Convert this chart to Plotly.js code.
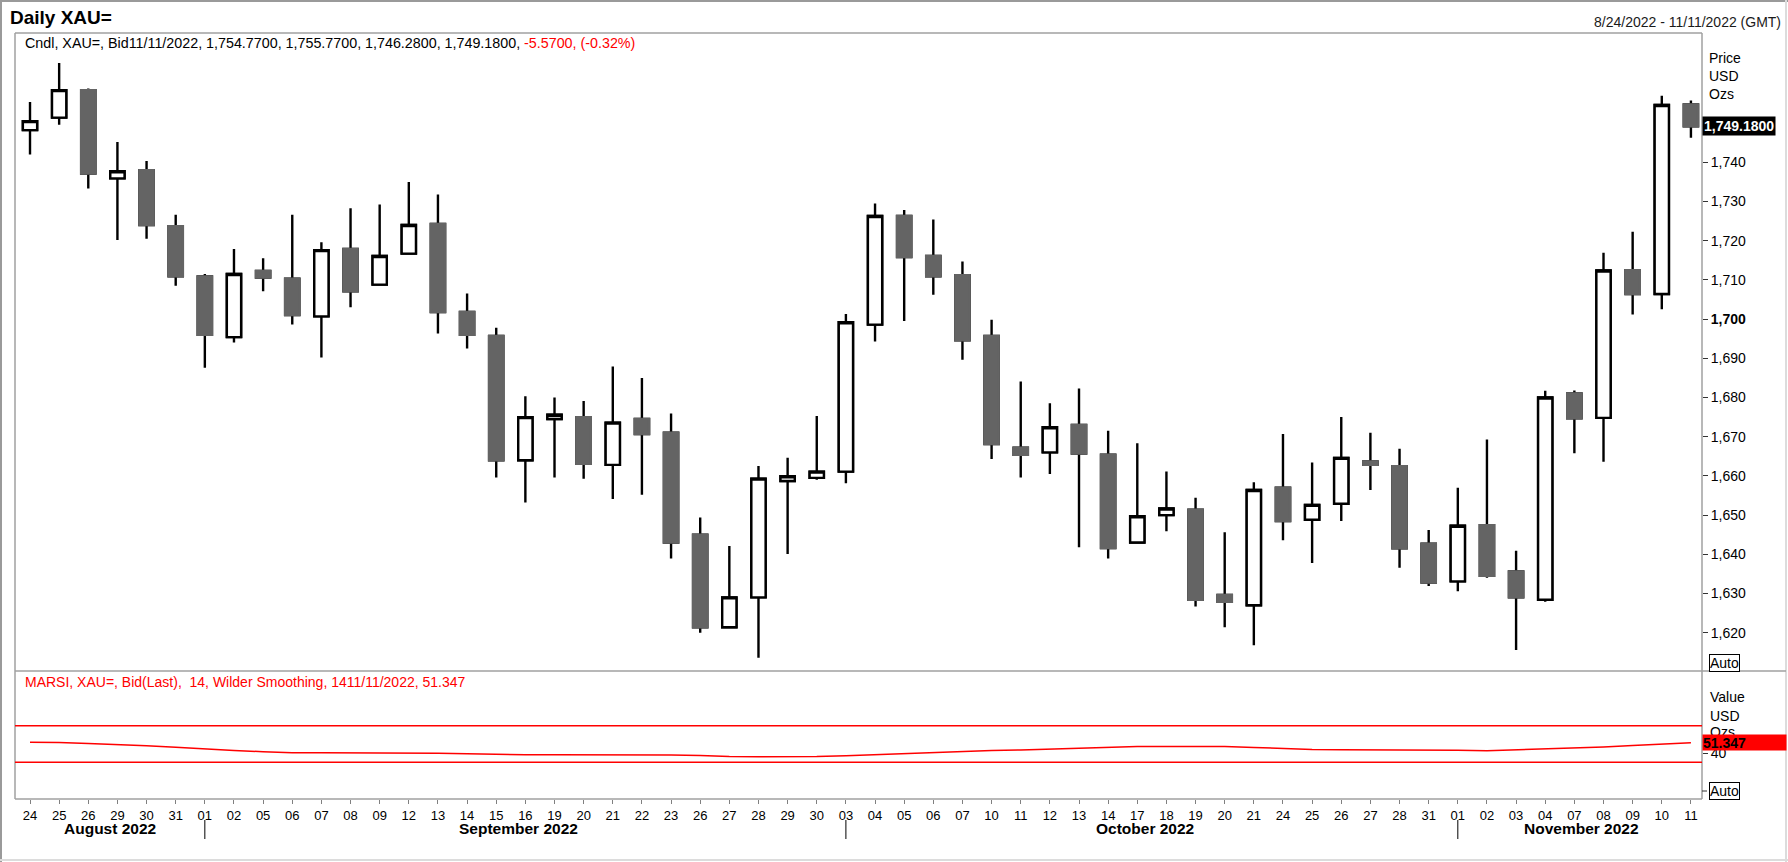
<!DOCTYPE html>
<html>
<head>
<meta charset="utf-8">
<script src="https://cdn.plot.ly/plotly-3.0.1.min.js"></script>
<style>
  html, body { margin: 0; padding: 0; background: #ffffff; }
  #chart { width: 1788px; height: 862px; }
</style>
</head>
<body>
<div id="chart"></div>
<script>
// ---------------- DATA ----------------
const dates = [
  '2022-08-24','2022-08-25','2022-08-26','2022-08-29','2022-08-30','2022-08-31',
  '2022-09-01','2022-09-02','2022-09-05','2022-09-06','2022-09-07','2022-09-08','2022-09-09',
  '2022-09-12','2022-09-13','2022-09-14','2022-09-15','2022-09-16','2022-09-19','2022-09-20',
  '2022-09-21','2022-09-22','2022-09-23','2022-09-26','2022-09-27','2022-09-28','2022-09-29','2022-09-30',
  '2022-10-03','2022-10-04','2022-10-05','2022-10-06','2022-10-07','2022-10-10','2022-10-11',
  '2022-10-12','2022-10-13','2022-10-14','2022-10-17','2022-10-18','2022-10-19','2022-10-20',
  '2022-10-21','2022-10-24','2022-10-25','2022-10-26','2022-10-27','2022-10-28','2022-10-31',
  '2022-11-01','2022-11-02','2022-11-03','2022-11-04','2022-11-07','2022-11-08','2022-11-09',
  '2022-11-10','2022-11-11'
];
const dayLabels = dates.map(d => d.slice(8, 10));

const opens = [
  1748.2, 1751.4, 1758.4, 1735.9, 1738.0, 1723.7,
  1710.9, 1695.4, 1712.3, 1710.3, 1700.7, 1717.9, 1708.8,
  1716.7, 1724.3, 1701.8, 1695.7, 1664.0, 1674.5, 1675.0,
  1662.8, 1674.5, 1671.0, 1645.0, 1621.4, 1629.0, 1658.7, 1659.5,
  1661.1, 1698.6, 1726.3, 1716.1, 1711.2, 1695.7, 1667.2,
  1666.0, 1673.0, 1665.4, 1643.0, 1650.0, 1651.4, 1629.6,
  1627.0, 1657.0, 1648.8, 1652.9, 1663.7, 1662.5, 1642.7,
  1633.1, 1647.4, 1635.6, 1628.4, 1681.0, 1674.8, 1712.5,
  1706.4, 1754.77
];
const highs = [
  1755.4, 1765.3, 1758.8, 1745.2, 1740.3, 1726.6,
  1711.5, 1717.9, 1715.5, 1726.6, 1719.6, 1728.3, 1729.2,
  1735.0, 1731.8, 1706.5, 1697.8, 1680.3, 1680.0, 1679.1,
  1687.9, 1685.0, 1675.9, 1649.4, 1642.1, 1662.5, 1664.6, 1675.3,
  1701.3, 1729.5, 1727.8, 1725.4, 1714.7, 1699.8, 1684.1,
  1678.5, 1682.3, 1671.5, 1668.3, 1661.1, 1654.4, 1645.6,
  1658.4, 1670.7, 1663.4, 1675.0, 1671.0, 1666.9, 1646.2,
  1657.0, 1669.3, 1640.9, 1681.7, 1681.8, 1716.9, 1722.3,
  1757.0, 1755.77
];
const lows = [
  1742.0, 1749.6, 1733.3, 1720.2, 1720.5, 1708.5,
  1687.6, 1694.0, 1707.1, 1698.6, 1690.2, 1703.0, 1708.5,
  1716.4, 1696.3, 1692.5, 1659.6, 1653.2, 1659.6, 1659.3,
  1654.1, 1655.2, 1638.9, 1620.0, 1621.2, 1613.6, 1640.1, 1659.0,
  1658.1, 1694.3, 1699.5, 1706.2, 1689.6, 1664.3, 1659.6,
  1660.5, 1641.8, 1638.9, 1642.7, 1645.9, 1626.7, 1621.4,
  1616.8, 1643.6, 1637.8, 1648.5, 1656.4, 1636.6, 1631.9,
  1630.6, 1634.0, 1615.6, 1627.9, 1665.8, 1663.6, 1701.2,
  1702.5, 1746.28
];
const closes = [
  1750.5, 1758.4, 1737.1, 1737.7, 1724.0, 1710.9,
  1696.0, 1711.5, 1710.6, 1701.0, 1717.6, 1707.1, 1716.1,
  1724.0, 1701.8, 1696.0, 1664.0, 1675.0, 1675.6, 1663.1,
  1673.6, 1670.7, 1643.0, 1621.4, 1629.0, 1659.3, 1659.9, 1661.1,
  1699.2, 1726.3, 1715.8, 1710.9, 1694.6, 1668.1, 1665.4,
  1672.4, 1665.7, 1641.6, 1649.7, 1651.7, 1628.4, 1627.9,
  1656.4, 1648.5, 1652.6, 1664.6, 1662.8, 1641.5, 1632.8,
  1647.3, 1634.5, 1629.0, 1680.0, 1674.7, 1712.4, 1706.4,
  1754.6, 1749.18
];
// RSI (14, Wilder smoothing)
const rsi = [
  52.0, 51.8, 50.5, 49.5, 48.1, 46.4,
  44.3, 42.8, 41.6, 40.6, 40.5, 40.5, 40.5,
  40.4, 40.0, 39.3, 38.4, 38.3, 38.3, 38.3,
  38.3, 38.3, 38.0, 37.4, 36.3, 36.1, 36.1, 36.3,
  37.3, 38.6, 39.6, 40.6, 41.8, 43.0, 43.6,
  44.5, 45.8, 47.0, 47.3, 47.3, 47.3, 47.2,
  46.3, 45.0, 44.0, 43.7, 43.7, 43.7, 43.6,
  43.2, 42.6, 43.5, 44.8, 45.4, 46.7, 48.3,
  49.8, 51.347
];
const rsiBands = [70, 30];
const priceTicks = [1620, 1630, 1640, 1650, 1660, 1670, 1680, 1690, 1700, 1710, 1720, 1730, 1740];
const rsiTicks = [40];
const monthKeys = ['2022-08', '2022-09', '2022-10', '2022-11'];
const monthLabels = ['August 2022', 'September 2022', 'October 2022', 'November 2022'];

const headerBlack = 'Cndl, XAU=, Bid11/11/2022, 1,754.7700, 1,755.7700, 1,746.2800, 1,749.1800,';
const headerRed = '-5.5700, (-0.32%)';
const rsiHeader = 'MARSI, XAU=, Bid(Last),  14, Wilder Smoothing, 1411/11/2022, 51.347';
const dateRange = '8/24/2022 - 11/11/2022 (GMT)';

// ---------------- GEOMETRY HELPERS ----------------
const W = 1788, H = 862;
const px = v => v / W;
const py = v => 1 - v / H;
const FONT = 'Liberation Sans, Arial, sans-serif';
const GRAY = '#646464';
const BORDER = '#a0a0a0';

// bodies only (no wicks) derived from data
const bodyHigh = opens.map((o, i) => Math.max(o, closes[i]));
const bodyLow = opens.map((o, i) => Math.min(o, closes[i]));

const traces = [
  { // wicks (black) + body outlines
    type: 'candlestick', x: dates, open: opens, high: highs, low: lows, close: closes,
    xaxis: 'x', yaxis: 'y', whiskerwidth: 0, hoverinfo: 'skip',
    increasing: { line: { color: '#000000', width: 2.4 }, fillcolor: '#ffffff' },
    decreasing: { line: { color: '#000000', width: 2.4 }, fillcolor: GRAY },
    showlegend: false
  },
  { // bodies on top: grey bodies without black outline
    type: 'candlestick', x: dates, open: opens, high: bodyHigh, low: bodyLow, close: closes,
    xaxis: 'x', yaxis: 'y', whiskerwidth: 0, hoverinfo: 'skip',
    increasing: { line: { color: '#000000', width: 2.4 }, fillcolor: '#ffffff' },
    decreasing: { line: { color: GRAY, width: 2.4 }, fillcolor: GRAY },
    showlegend: false
  },
  {
    type: 'scatter', mode: 'lines', x: dates, y: rsi, xaxis: 'x', yaxis: 'y2',
    line: { color: '#ff0000', width: 1.5 }, hoverinfo: 'skip', showlegend: false
  }
];

// ---------------- SHAPES ----------------
const shapes = [];
function pline(x0, y0, x1, y1, color, width) {
  shapes.push({ type: 'line', xref: 'paper', yref: 'paper', x0: px(x0), y0: py(y0), x1: px(x1), y1: py(y1),
    line: { color: color, width: width } });
}
// outer frame
pline(0, 1, W, 1, '#9a9a9a', 2);
pline(1, 0, 1, H, '#9a9a9a', 2);
pline(0, 860, W, 860, '#dcdcdc', 2);
pline(1786, 0, 1786, H, '#dcdcdc', 2);
// panel borders
pline(15, 33, 1702, 33, BORDER, 1.5);
pline(15, 33, 15, 799, BORDER, 1.5);
pline(15, 671, 1786, 671, BORDER, 1.5);
pline(15, 799, 1702, 799, BORDER, 1.5);
pline(1702, 33, 1702, 799, BORDER, 1.5);
// RSI band lines
rsiBands.forEach(b => shapes.push({ type: 'line', xref: 'paper', yref: 'y2', x0: px(15), x1: px(1702), y0: b, y1: b,
  line: { color: '#ff0000', width: 1.5 } }));
// tick beside lower "Auto"
pline(1702, 791, 1707, 791, '#333333', 1);

// month separators + month labels
const annotations = [];
monthKeys.forEach((mk, m) => {
  const idx = dates.map((d, i) => d.startsWith(mk) ? i : -1).filter(i => i >= 0);
  const first = idx[0], last = idx[idx.length - 1];
  if (m > 0) {
    shapes.push({ type: 'line', xref: 'x', yref: 'paper', x0: first, x1: first, y0: py(820), y1: py(839),
      line: { color: '#000000', width: 1 } });
  }
  annotations.push({ xref: 'x', yref: 'paper', x: (first + last) / 2 + 0.25, y: py(828), text: '<b>' + monthLabels[m] + '</b>',
    showarrow: false, xanchor: 'center', yanchor: 'middle', font: { family: FONT, size: 15.5, color: '#000000' } });
});

function ptext(x, y, text, opts) {
  annotations.push(Object.assign({ xref: 'paper', yref: 'paper', x: px(x), y: py(y), text: text, showarrow: false,
    xanchor: 'left', yanchor: 'middle', font: { family: FONT, size: 14, color: '#000000' } }, opts || {}));
}
ptext(1783, 22, dateRange, { xanchor: 'right', font: { family: FONT, size: 14, color: '#1a1a1a' } });
ptext(23, 43, headerBlack + ' <span style="color:#ff0000">' + headerRed + '</span>',
  { font: { family: FONT, size: 14.3, color: '#000000' } });
ptext(1707, 58, 'Price');
ptext(1707, 76, 'USD');
ptext(1707, 94, 'Ozs');
// last price box
annotations.push({ xref: 'paper', yref: 'y', x: px(1702), y: closes[closes.length - 1],
  text: '<b>' + closes[closes.length - 1].toLocaleString('en-US', { minimumFractionDigits: 4 }) + '</b>',
  showarrow: false, xanchor: 'left', yanchor: 'middle', bgcolor: '#000000', borderpad: 1,
  font: { family: FONT, size: 14, color: '#ffffff' } });
ptext(1724, 663, 'Auto', { xanchor: 'center', bordercolor: '#000000', borderwidth: 1, borderpad: 0, bgcolor: '#ffffff' });
// lower pane
ptext(23, 682, rsiHeader, { font: { family: FONT, size: 14, color: '#ff0000' } });
ptext(1708, 697, 'Value');
ptext(1708, 716, 'USD');
ptext(1708, 732, 'Ozs');
annotations.push({ xref: 'paper', yref: 'y2', x: px(1702), y: rsi[rsi.length - 1],
  text: '<b>' + rsi[rsi.length - 1].toFixed(3) + '</b>', showarrow: false, xanchor: 'left', yanchor: 'middle',
  bgcolor: '#ff0000', borderpad: 0, width: 83, height: 15, align: 'left',
  font: { family: FONT, size: 14, color: '#000000' } });
ptext(1724, 791, 'Auto', { xanchor: 'center', bordercolor: '#000000', borderwidth: 1, borderpad: 0, bgcolor: '#ffffff' });

// ---------------- LAYOUT ----------------
const layout = {
  width: W, height: H,
  margin: { l: 0, r: 0, t: 0, b: 0 },
  paper_bgcolor: '#ffffff', plot_bgcolor: '#ffffff',
  showlegend: false,
  boxgap: 0.3,
  font: { family: FONT, size: 14, color: '#000000' },
  title: { text: '<b>Daily XAU=</b>', x: px(10), xanchor: 'left', xref: 'paper', y: py(17), yanchor: 'middle', yref: 'paper',
    font: { family: FONT, size: 19, color: '#000000' } },
  xaxis: {
    type: 'category', domain: [px(15), px(1702)], range: [-0.515, dates.length - 1 + 0.38], anchor: 'y2',
    tickmode: 'array', tickvals: dates, ticktext: dayLabels,
    ticks: 'outside', ticklen: 4, tickwidth: 1, tickcolor: '#808080',
    tickfont: { family: FONT, size: 13, color: '#000000' },
    showgrid: false, showline: false, zeroline: false, fixedrange: true,
    rangeslider: { visible: false }
  },
  yaxis: {
    domain: [py(671), py(33)], range: [1610.23, 1772.98], side: 'right', anchor: 'x',
    tickmode: 'array', tickvals: priceTicks,
    ticktext: priceTicks.map(v => v === 1700 ? '<b>1,700</b>' : v.toLocaleString('en-US')),
    ticks: 'outside', ticklen: 5, tickwidth: 1, tickcolor: '#333333',
    tickfont: { family: FONT, size: 14, color: '#000000' },
    showgrid: false, showline: false, zeroline: false, fixedrange: true
  },
  yaxis2: {
    domain: [py(799.3), py(671)], range: [-10.4, 129.8], side: 'right', anchor: 'x',
    tickmode: 'array', tickvals: rsiTicks, ticktext: rsiTicks.map(String),
    ticks: 'outside', ticklen: 5, tickwidth: 1, tickcolor: '#333333',
    tickfont: { family: FONT, size: 14, color: '#000000' },
    showgrid: false, showline: false, zeroline: false, fixedrange: true
  },
  shapes: shapes,
  annotations: annotations
};

Plotly.newPlot('chart', traces, layout, { displayModeBar: false, staticPlot: true });
</script>
</body>
</html>
